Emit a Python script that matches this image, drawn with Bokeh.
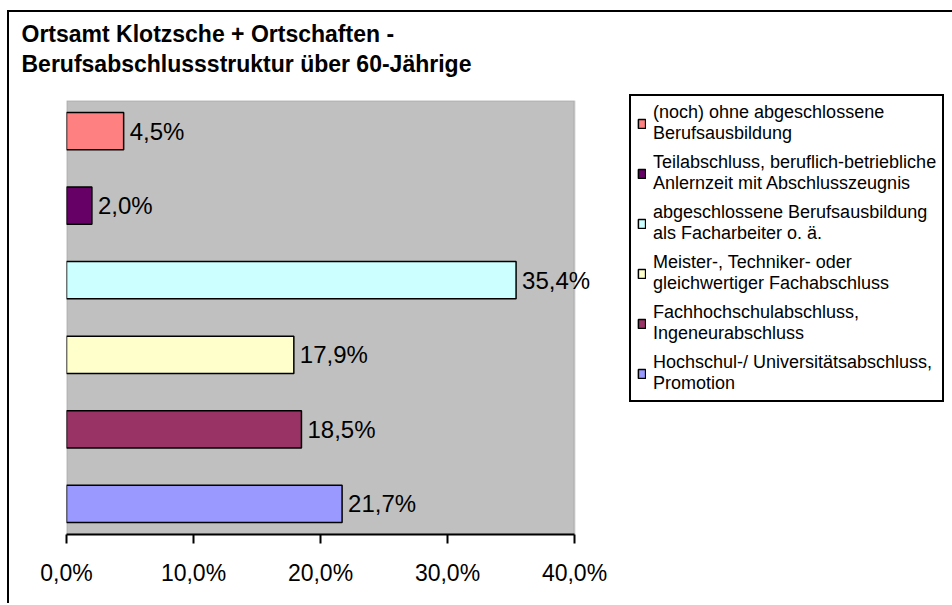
from bokeh.plotting import figure
from bokeh.models import (Range1d, FactorRange, FixedTicker, Legend, LegendItem,
                          ColumnDataSource, BoxAnnotation)
from bokeh.core.properties import value
from bokeh.embed import file_html
from bokeh.resources import INLINE

# ---- data ----
categories = [
    "(noch) ohne abgeschlossene Berufsausbildung",
    "Teilabschluss, beruflich-betriebliche Anlernzeit mit Abschlusszeugnis",
    "abgeschlossene Berufsausbildung als Facharbeiter o. ä.",
    "Meister-, Techniker- oder gleichwertiger Fachabschluss",
    "Fachhochschulabschluss, Ingeneurabschluss",
    "Hochschul-/ Universitätsabschluss, Promotion",
]
legend_labels = [
    "(noch) ohne abgeschlossene\nBerufsausbildung",
    "Teilabschluss, beruflich-betriebliche\nAnlernzeit mit Abschlusszeugnis",
    "abgeschlossene Berufsausbildung\nals Facharbeiter o. ä.",
    "Meister-, Techniker- oder\ngleichwertiger Fachabschluss",
    "Fachhochschulabschluss,\nIngeneurabschluss",
    "Hochschul-/ Universitätsabschluss,\nPromotion",
]
values = [4.5, 2.0, 35.4, 17.9, 18.5, 21.7]
colors = ["#FF8080", "#660066", "#CCFFFF", "#FFFFCC", "#993366", "#9999FF"]
tick_values = [0, 10, 20, 30, 40]
tick_labels = ["0,0%", "10,0%", "20,0%", "30,0%", "40,0%"]
title_text = "Ortsamt Klotzsche + Ortschaften -\nBerufsabschlussstruktur über 60-Jährige"

FONT = "Liberation Sans"

bar_labels = [f"{v:.1f}".replace(".", ",") + "%" for v in values]
source = ColumnDataSource(dict(cat=categories, val=values, color=colors, lab=bar_labels))

x_min, x_max = tick_values[0], tick_values[-1]
GRAY_W = 508             # pixel width of the 0..40 plot area
FRAME_W = 558            # frame extends past 40 % so labels are not clipped
x_end = x_min + (x_max - x_min) * FRAME_W / GRAY_W

p = figure(
    frame_width=FRAME_W, frame_height=434,
    x_range=Range1d(x_min, x_end),
    y_range=FactorRange(factors=list(reversed(categories)), range_padding=-0.03),
    output_backend="svg", toolbar_location=None,
    y_axis_location=None,
    min_border_left=57, min_border_right=328, min_border_top=88, min_border_bottom=71,
)
p.styles = {"box-shadow": "-2px -2px 0 0 black",
            "margin-left": "9px", "margin-top": "12px"}

p.background_fill_color = "white"
p.border_fill_color = "white"
p.outline_line_color = None
p.xgrid.visible = False
p.ygrid.visible = False

# gray plot area (0 .. 40 %)
plot_area = BoxAnnotation(left=x_min, right=x_max, fill_color="#C0C0C0", fill_alpha=1,
                          line_color="#808080", line_width=2, level="underlay")
p.add_layout(plot_area)

# title
p.title.text = title_text
p.title.text_font = FONT
p.title.text_font_size = "23px"
p.title.text_font_style = "bold"
p.title.text_color = "black"
p.title.align = "left"
p.title.vertical_align = "bottom"
p.title.offset = -45
p.title.standoff = 0
p.title.padding = dict(left=0, right=0, top=0, bottom=23)
p.title.text_line_height = 1.19

# bars
renderers = []
for i in range(len(categories)):
    r = p.hbar(y=[categories[i]], left=[0], right=[values[i]], height=0.5,
               fill_color=colors[i], line_color="black", line_width=1.5)
    renderers.append(r)

# value labels
p.text(x="val", y="cat", text="lab", source=source, x_offset=6,
       text_align="left", text_baseline="middle",
       text_font=value(FONT), text_font_size="24px", text_color="black")

# x axis
ax = p.xaxis[0]
ax.bounds = (x_min, x_max)
ax.ticker = FixedTicker(ticks=tick_values)
ax.major_label_overrides = {t: l for t, l in zip(tick_values, tick_labels)}
ax.axis_line_color = "black"
ax.axis_line_width = 2
ax.major_tick_line_color = "black"
ax.major_tick_line_width = 2
ax.major_tick_out = 9
ax.major_tick_in = 0
ax.minor_tick_line_color = None
ax.major_label_text_font = FONT
ax.major_label_text_font_size = "23px"
ax.major_label_text_color = "black"
ax.major_label_standoff = 16

# legend
items = [LegendItem(label=legend_labels[i], renderers=[renderers[i]]) for i in range(len(categories))]
legend = Legend(items=items, location=(5, 132))
legend.border_line_color = "black"
legend.border_line_width = 2
legend.border_line_alpha = 1
legend.background_fill_color = "white"
legend.background_fill_alpha = 1
legend.glyph_width = 9
legend.glyph_height = 11
legend.label_text_font = FONT
legend.label_text_font_size = "18px"
legend.label_text_color = "black"
legend.label_text_line_height = 0.95
legend.label_standoff = 7
legend.spacing = 8
legend.padding = 6
legend.margin = 0
p.add_layout(legend, "right")

open("out.html", "w").write(file_html(p, INLINE))
